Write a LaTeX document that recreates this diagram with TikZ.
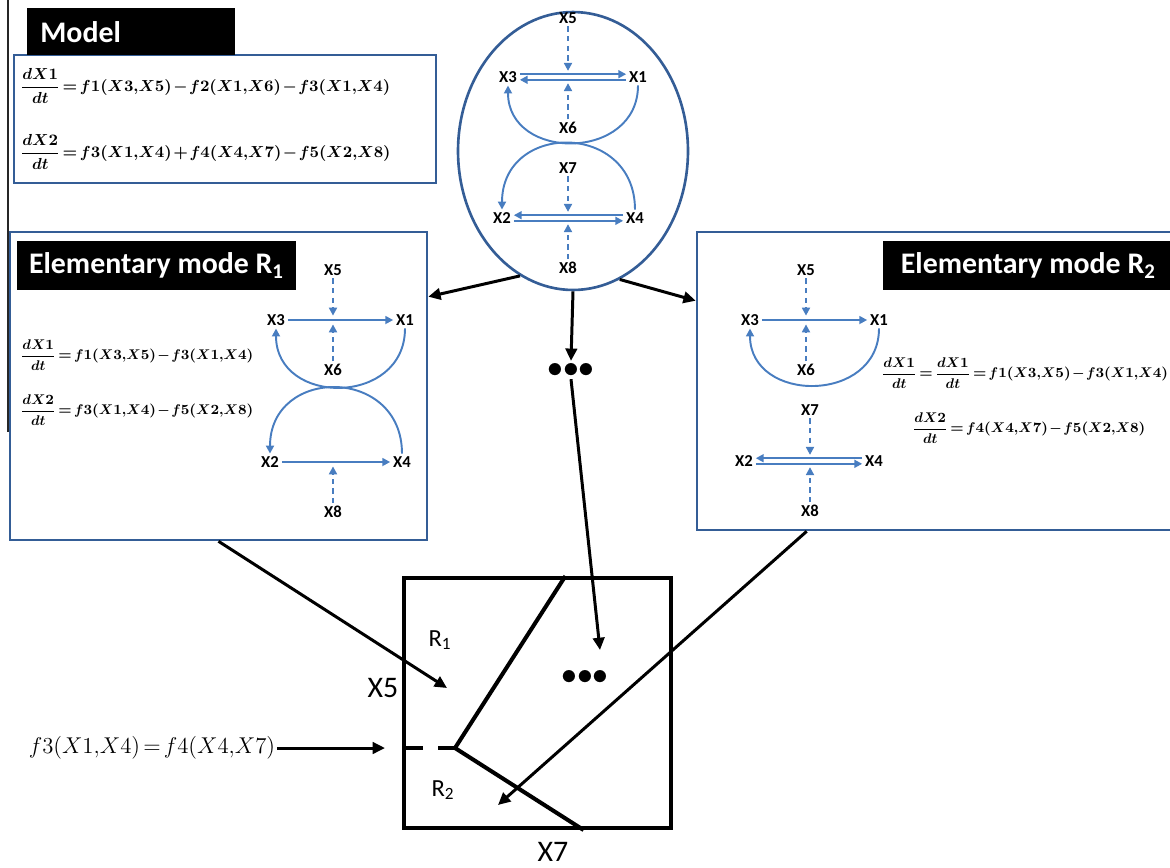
\RequirePackage{fix-cm}
\documentclass[tikz,border=0pt]{standalone}
\usepackage{fontspec}
\setsansfont{Carlito}
\usepackage{amsmath}
\usetikzlibrary{arrows.meta, positioning, shapes.geometric, calc}

\definecolor{frameblue}{RGB}{52,93,150}
\definecolor{netblue}{RGB}{72,125,192}

% tighter spacing round = and -
\newcommand{\tightmath}{\thickmuskip=2.5mu\medmuskip=1.5mu}

\begin{document}
\begin{tikzpicture}[
        x = 0.02cm, y = 0.02cm,
        frame/.style = {
            rectangle,
            draw       = frameblue,
            line width = 1.5pt,
            inner sep  = 0pt
        },
        titlebox/.style = {
            rectangle,
            fill      = black,
            text      = white,
            inner sep = 0pt,
            font      = \sffamily\bfseries\fontsize{17}{20}\selectfont
        },
        species/.style = {inner sep = 1.5pt, font = \sffamily\bfseries\fontsize{9.5}{11}\selectfont},
        rate/.style    = {anchor = west, inner sep = 0pt, font = \boldmath\tightmath\fontsize{9.1}{11}\selectfont},
        ratesm/.style  = {rate, font = \boldmath\tightmath\fontsize{8}{10}\selectfont},
        reac/.style    = {draw = netblue, line width = 1.1pt, -{Triangle[length = 4.5pt, width = 4.5pt]}},
        modif/.style   = {reac, dash pattern = on 3pt off 2.5pt},
        flow/.style    = {line width = 1.7pt, -{Triangle[length = 7pt, width = 6.5pt]}},
        dots/.style    = {inner sep = 1pt, font = \fontsize{18}{18}\selectfont},
        biglabel/.style = {inner sep = 1pt, font = \sffamily\fontsize{17}{20}\selectfont},
        region/.style  = {inner sep = 1pt, font = \sffamily\fontsize{14}{16}\selectfont}
    ]
    \useasboundingbox (0,0) rectangle (1170,-867);

    \draw[line width = 0.7pt, black!85] (8,0) -- (8,-432);

    % model
    \node[frame, minimum width = 8.44cm, minimum height = 2.56cm] (modelBox) at (225,-119) {};
    \node[titlebox, anchor = north west, minimum width = 4.16cm, minimum height = 0.94cm,
          text width = 3.64cm, align = left] (modelTitle) at (27,-8) {Model};
    \node[rate] (eqM1) at (20,-86)  {$\dfrac{dX1}{dt}=f1(X3{,}X5)-f2(X1{,}X6)-f3(X1{,}X4)$};
    \node[rate] (eqM2) at (20,-152) {$\dfrac{dX2}{dt}=f3(X1{,}X4)+f4(X4{,}X7)-f5(X2{,}X8)$};

    \node[ellipse, draw = frameblue, line width = 1.5pt, inner sep = 0pt,
          minimum width = 4.6cm, minimum height = 5.56cm] (netEll) at (573,-151) {};

    \node[species] (mX5) at (568,-18)  {X5};
    \node[species] (mX3) at (508,-77)  {X3};
    \node[species] (mX1) at (638,-77)  {X1};
    \node[species] (mX6) at (568,-128) {X6};
    \node[species] (mX7) at (568,-168) {X7};
    \node[species] (mX2) at (502,-218) {X2};
    \node[species] (mX4) at (635,-218) {X4};
    \node[species] (mX8) at (568,-268) {X8};
    \coordinate (mMid1) at (mX5 |- mX3);
    \coordinate (mMid2) at (mX7 |- mX2);

    \draw[reac] ([yshift=1.6pt]mX3.east) -- ([yshift=1.6pt]mX1.west);
    \draw[reac] ([yshift=-1.6pt]mX1.west) -- ([yshift=-1.6pt]mX3.east);
    \draw[modif] (mX5) -- ([yshift=3.5pt]mMid1);
    \draw[modif] (mX6) -- ([yshift=-3.5pt]mMid1);
    \draw[reac] (mX1.south) to[out=-90, in=-90, looseness=1.5] (mX3.south);
    \draw[reac] (mX4.north) to[out=90, in=90, looseness=1.7] (mX2.north);
    \draw[reac] ([yshift=1.6pt]mX4.west) -- ([yshift=1.6pt]mX2.east);
    \draw[reac] ([yshift=-1.6pt]mX2.east) -- ([yshift=-1.6pt]mX4.west);
    \draw[modif] (mX7) -- ([yshift=3.5pt]mMid2);
    \draw[modif] (mX8) -- ([yshift=-3.5pt]mMid2);

    % elementary mode R1
    \node[frame, minimum width = 8.34cm, minimum height = 6.16cm] (modeR1) at (218.5,-386) {};
    \node[titlebox, minimum width = 5.58cm, minimum height = 0.98cm] (titleR1) at (156.5,-265.5)
        {Elementary mode R\textsubscript{1}};
    \node[ratesm] (eqA1) at (20,-355) {$\dfrac{dX1}{dt}=f1(X3{,}X5)-f3(X1{,}X4)$};
    \node[ratesm] (eqA2) at (20,-410) {$\dfrac{dX2}{dt}=f3(X1{,}X4)-f5(X2{,}X8)$};

    \node[species] (aX5) at (333,-270) {X5};
    \node[species] (aX3) at (276,-320) {X3};
    \node[species] (aX1) at (405,-320) {X1};
    \node[species] (aX6) at (333,-370) {X6};
    \node[species] (aX2) at (270,-462) {X2};
    \node[species] (aX4) at (402,-462) {X4};
    \node[species] (aX8) at (333,-512) {X8};
    \coordinate (aMid1) at (aX5 |- aX3);
    \coordinate (aMid2) at (aX8 |- aX2);

    \draw[reac] (aX3) -- (aX1);
    \draw[modif] (aX5) -- ([yshift=2.5pt]aMid1);
    \draw[modif] (aX6) -- ([yshift=-2.5pt]aMid1);
    \draw[reac] (aX1.south) to[out=-90, in=-90, looseness=1.55] (aX3.south);
    \draw[reac] (aX4.north) to[out=90, in=90, looseness=1.7] (aX2.north);
    \draw[reac] (aX2) -- (aX4);
    \draw[modif] (aX8) -- ([yshift=-2.5pt]aMid2);

    % elementary mode R2
    \node[frame, minimum width = 9.6cm, minimum height = 5.96cm] (modeR2) at (937,-381) {};
    \node[titlebox, anchor = west, minimum width = 5.8cm, minimum height = 0.98cm] (titleR2) at (883,-265.5)
        {Elementary mode R\textsubscript{2}};
    \node[ratesm] (eqB1) at (881,-373) {$\dfrac{dX1}{dt}=\dfrac{dX1}{dt}=f1(X3{,}X5)-f3(X1{,}X4)$};
    \node[ratesm] (eqB2) at (912,-428) {$\dfrac{dX2}{dt}=f4(X4{,}X7)-f5(X2{,}X8)$};

    \node[species] (bX5) at (806,-270) {X5};
    \node[species] (bX3) at (750,-320) {X3};
    \node[species] (bX1) at (879,-320) {X1};
    \node[species] (bX6) at (806,-370) {X6};
    \node[species] (bX7) at (810,-410) {X7};
    \node[species] (bX2) at (744,-461) {X2};
    \node[species] (bX4) at (874,-461) {X4};
    \node[species] (bX8) at (810,-511) {X8};
    \coordinate (bMid1) at (bX5 |- bX3);
    \coordinate (bMid2) at (bX7 |- bX2);

    \draw[reac] (bX3) -- (bX1);
    \draw[modif] (bX5) -- ([yshift=2.5pt]bMid1);
    \draw[modif] (bX6) -- ([yshift=-2.5pt]bMid1);
    \draw[reac] (bX1.south) to[out=-90, in=-90, looseness=1.5] (bX3.south);
    \draw[reac] ([yshift=1.6pt]bX4.west) -- ([yshift=1.6pt]bX2.east);
    \draw[reac] ([yshift=-1.6pt]bX2.east) -- ([yshift=-1.6pt]bX4.west);
    \draw[modif] (bX7) -- ([yshift=3.5pt]bMid2);
    \draw[modif] (bX8) -- ([yshift=-3.5pt]bMid2);

    % flux space
    \node[draw, line width = 2.3pt, inner sep = 0pt, minimum width = 5.34cm, minimum height = 5cm]
        (spaceBox) at (537.5,-703) {};
    \node[dots] (dotsTop) at (571,-370) {${\bullet}{\bullet}{\bullet}$};
    \node[dots] (dotsIn)  at (585,-677) {${\bullet}{\bullet}{\bullet}$};
    \node[biglabel] (labX5) at (383,-688) {X5};
    \node[biglabel] (labX7) at (553,-852) {X7};
    \node[region] (labR1) at (440,-640) {R\textsubscript{1}};
    \node[region] (labR2) at (443,-790) {R\textsubscript{2}};
    \node[inner sep = 1pt, font = \tightmath\fontsize{13}{15}\selectfont] (cutEq) at (152,-748)
        {$f3(X1{,}X4)=f4(X4{,}X7)$};

    \coordinate (split)    at (455,-748);
    \coordinate (splitTop) at ($(spaceBox.north west)!0.603!(spaceBox.north east)$);
    \coordinate (splitBot) at ($(spaceBox.south west)!0.67!(spaceBox.south east)$);
    \coordinate (cutTip)   at (385,-748);
    \coordinate (dotsTip)  at (600,-650);
    \coordinate (tipR1)    at (447,-688);
    \coordinate (tipR2)    at (498,-805);

    \draw[line width = 2.3pt] (splitTop) -- (split) -- (splitBot);
    \draw[line width = 2.3pt, dash pattern = on 0.42cm off 0.3cm] (spaceBox.west |- split) -- (split);

    \draw[flow] (netEll.-113) -- ($(modeR1.north east)+(0,-66)$);
    \draw[flow] (netEll.-70)  -- ($(modeR2.north west)+(0,-70)$);
    \draw[flow] (netEll.south) -- (dotsTop.north);
    \draw[flow] (dotsTop.south) -- (dotsTip);
    \draw[flow] (modeR1.south) -- (tipR1);
    \draw[flow] ($(modeR2.south west)!0.23!(modeR2.south east)$) -- (tipR2);
    \draw[flow] (cutEq.east) -- (cutTip);
\end{tikzpicture}
\end{document}
